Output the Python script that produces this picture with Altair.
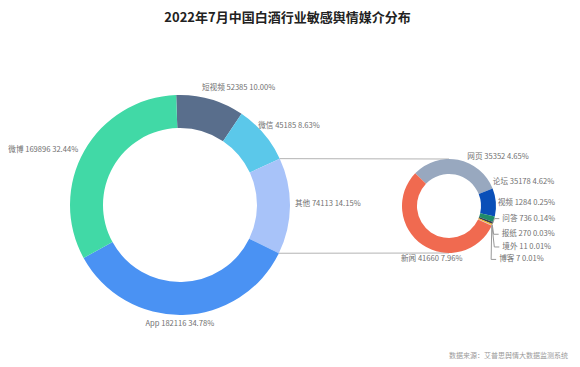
import math
import altair as alt
import pandas as pd

# ---------------- data ----------------
title_text = "2022年7月中国白酒行业敏感舆情媒介分布"
source_text = "数据来源：艾普思舆情大数据监测系统"

big_names = ["短视频", "微信", "其他", "App", "微博"]
big_values = [52385, 45185, 74113, 182116, 169896]
big_pct = ["10.00%", "8.63%", "14.15%", "34.78%", "32.44%"]

small_names = ["网页", "论坛", "视频", "问答", "报纸", "境外", "博客", "新闻"]
small_values = [35352, 35178, 1284, 736, 270, 11, 7, 41660]
small_pct = ["4.65%", "4.62%", "0.25%", "0.14%", "0.03%", "0.01%", "0.01%", "7.96%"]
# share of the ring each slice takes as drawn in the picture (percent)
small_arc_share = [31.7, 9.7, 1.95, 0.7, 0.33, 0.14, 0.14, 55.34]

# ---------------- styles / layout ----------------
big_colors = ["#596e8c", "#5bc8ea", "#a8c3f9", "#4a92f3", "#41d9a6"]
small_colors = ["#98a8bf", "#0a4fb8", "#1f8c6a", "#363f4f", "#f4b400", "#e8734a", "#c8c8c8", "#f06a50"]

FONT = "Noto Sans CJK SC"
LABEL_SIZE = 7.6
W, H = 564, 351
OFF = 8  # page margin

BIG_C = (180 - OFF, 205 - OFF)
BIG_R, BIG_r, BIG_START = 110, 77, -2.0
BIG_LABEL_R = 116
big_align = ["left", "left", "left", "center", "right"]
big_nudge = [(-10, -5.5), (-10, -4), (-1, -2), (-3, 3), (-1, 2)]

SMALL_C = (449 - OFF, 206 - OFF)
SMALL_R, SMALL_r, SMALL_START = 47, 32, -46.0
SMALL_LABEL_R = 54
small_align = ["left"] * 8
small_nudge = [(8, 4), (-10, -20), (-3, -18), (3, -7), (3, 7), (4, 19), (1, 31), (-17.5, 8.5)]
small_leader = [False, False, False, True, True, True, True, False]

all_names = big_names + small_names
all_colors = big_colors + small_colors
color_scale = alt.Scale(domain=all_names, range=all_colors)


def angles(weights, start):
    tot = float(sum(weights))
    out, acc = [], 0.0
    for w in weights:
        a0 = start + acc / tot * 360
        acc += w
        a1 = start + acc / tot * 360
        out.append((a0, a1))
    return out


def polar(c, r, deg):
    t = math.radians(deg)
    return c[0] + r * math.sin(t), c[1] - r * math.cos(t)


def donut(names, weights, center, R, r, start):
    df = pd.DataFrame({"name": names, "v": weights, "idx": list(range(len(names)))})
    s = math.radians(start)
    return alt.Chart(df).mark_arc(outerRadius=R, innerRadius=r).encode(
        x=alt.value(center[0]),
        y=alt.value(center[1]),
        theta=alt.Theta("v:Q", stack=True,
                        scale=alt.Scale(domain=[0, float(sum(weights))], range=[s, s + 2 * math.pi])),
        color=alt.Color("name:N", scale=color_scale, legend=None),
        order=alt.Order("idx:Q"),
    )


def label_rows(names, values, pcts, weights, center, rl, start, aligns, nudges):
    rows = []
    for n, v, p, (a0, a1), al, (dx, dy) in zip(names, values, pcts, angles(weights, start), aligns, nudges):
        x, y = polar(center, rl, (a0 + a1) / 2)
        rows.append({"label": f"{n} {v} {p}", "x": x + dx, "y": y + dy, "align": al, "mid": (a0 + a1) / 2})
    return rows


def text_layers(rows):
    df = pd.DataFrame(rows)
    layers = []
    for al in ["left", "center", "right"]:
        sub = df[df["align"] == al]
        if len(sub) == 0:
            continue
        layers.append(alt.Chart(sub).mark_text(align=al, baseline="middle", font=FONT,
                                               fontSize=LABEL_SIZE, color="#707070").encode(
            x=alt.X("x:Q", scale=None, axis=None),
            y=alt.Y("y:Q", scale=None, axis=None),
            text="label:N"))
    return layers


big_rows = label_rows(big_names, big_values, big_pct, big_values, BIG_C, BIG_LABEL_R,
                      BIG_START, big_align, big_nudge)
small_rows = label_rows(small_names, small_values, small_pct, small_arc_share, SMALL_C,
                        SMALL_LABEL_R, SMALL_START, small_align, small_nudge)

# connectors from the "其他" slice to the small ring
oth = big_names.index("其他")
a0, a1 = angles(big_values, BIG_START)[oth]
p_top = polar(BIG_C, BIG_R, a0)
p_bot = polar(BIG_C, BIG_R, a1)
conn = pd.DataFrame({
    "x": [p_top[0], p_bot[0]],
    "x2": [SMALL_C[0], SMALL_C[0]],
    "y": [p_top[1], p_bot[1]],
    "y2": [SMALL_C[1] - SMALL_R, SMALL_C[1] + SMALL_R],
})
connectors = alt.Chart(conn).mark_rule(color="#b4b4b4", strokeWidth=1).encode(
    x=alt.X("x:Q", scale=None, axis=None), x2="x2:Q",
    y=alt.Y("y:Q", scale=None, axis=None), y2="y2:Q")

# leader lines for the thin slices
lead = []
for row, use in zip(small_rows, small_leader):
    if not use:
        continue
    ex, ey = polar(SMALL_C, SMALL_R, row["mid"])
    lead += [
        {"g": row["label"], "s": 0, "x": ex, "y": ey},
        {"g": row["label"], "s": 1, "x": row["x"] - 8, "y": row["y"]},
        {"g": row["label"], "s": 2, "x": row["x"] - 3, "y": row["y"]},
    ]
leaders = alt.Chart(pd.DataFrame(lead)).mark_line(color="#999999", strokeWidth=1).encode(
    x=alt.X("x:Q", scale=None, axis=None),
    y=alt.Y("y:Q", scale=None, axis=None),
    detail="g:N", order="s:Q")

title = alt.Chart(pd.DataFrame({"t": [title_text]})).mark_text(
    align="center", baseline="middle", font=FONT, fontSize=13, fontWeight="bold", color="#222222"
).encode(text="t:N", x=alt.value(287.5 - OFF), y=alt.value(17.5 - OFF))

footer = alt.Chart(pd.DataFrame({"t": [source_text]})).mark_text(
    align="right", baseline="middle", font=FONT, fontSize=7, color="#9a9a9a"
).encode(text="t:N", x=alt.value(568 - OFF), y=alt.value(356 - OFF))

big = donut(big_names, big_values, BIG_C, BIG_R, BIG_r, BIG_START)
small = donut(small_names, small_arc_share, SMALL_C, SMALL_R, SMALL_r, SMALL_START)

chart = alt.layer(
    connectors, big, small, leaders, *text_layers(big_rows), *text_layers(small_rows), title, footer
).resolve_scale(theta="independent").properties(
    width=W, height=H, padding=0, autosize="none", background="white"
).configure_view(stroke=None)

chart.save("out.html", embed_options={"renderer": "svg", "actions": False})
